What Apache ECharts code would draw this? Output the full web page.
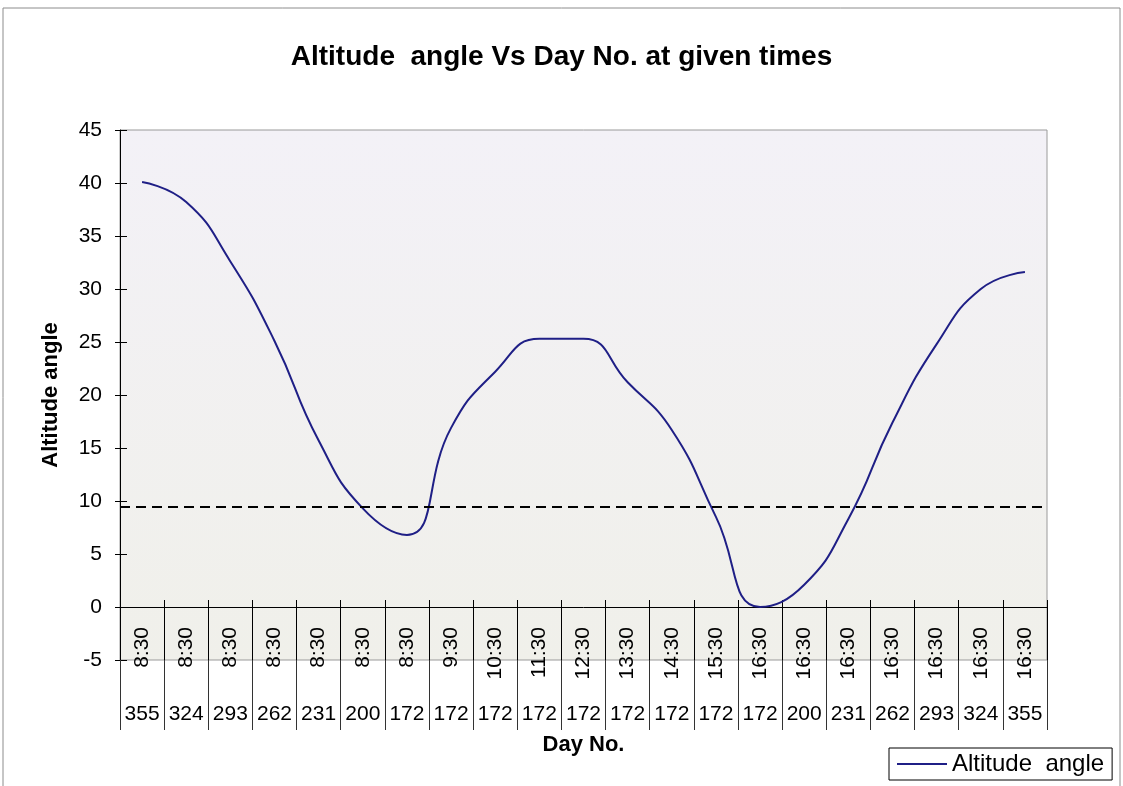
<!DOCTYPE html>
<html>
<head>
    <meta charset="utf-8">
    <title>Altitude angle</title>
    <script src="https://cdn.jsdelivr.net/npm/echarts@6/dist/echarts.min.js"></script>
    <style>
        html, body { margin: 0; padding: 0; background: #fff; }
    </style>
</head>
<body>
    <div id="main" style="width: 1123px;height:786px;"></div>
    <script type="text/javascript">
        // category labels (two levels) and the values
        var times = ['8:30', '8:30', '8:30', '8:30', '8:30', '8:30', '8:30', '9:30', '10:30', '11:30', '12:30',
            '13:30', '14:30', '15:30', '16:30', '16:30', '16:30', '16:30', '16:30', '16:30', '16:30'];
        var days = ['355', '324', '293', '262', '231', '200', '172', '172', '172', '172', '172',
            '172', '172', '172', '172', '200', '231', '262', '293', '324', '355'];
        var altitude = [40.1, 38.2, 32.6, 25.1, 15.7, 9.3, 6.8, 16.9, 22.2, 25.3, 25.3,
            21.2, 16.7, 8.5, 0.0, 2.1, 8.3, 17.4, 24.8, 30.0, 31.6];
        var threshold = 9.5;
        var yTicks = { min: -5, max: 45, interval: 5 };

        var font = '"Liberation Sans", Arial, sans-serif';
        var myChart = echarts.init(document.getElementById('main'));

        var option = {
            backgroundColor: '#fff',
            animation: false,
            textStyle: { fontFamily: font },
            graphic: [{
                type: 'rect',
                shape: { x: 3, y: 8, width: 1117, height: 800 },
                style: { fill: 'none', stroke: '#8c8c8c', lineWidth: 1 },
                silent: true
            }],
            title: {
                text: 'Altitude  angle Vs Day No. at given times',
                left: 'center',
                top: 38,
                textStyle: { fontFamily: font, fontSize: 28, fontWeight: 'bold', color: '#000' }
            },
            legend: {
                data: ['Altitude  angle'],
                left: 889,
                top: 748,
                padding: [4, 8, 4, 8],
                icon: 'rect',
                itemWidth: 50,
                itemHeight: 2,
                itemGap: 4,
                borderColor: '#000',
                borderWidth: 1,
                textStyle: { fontFamily: font, fontSize: 24, color: '#000' }
            },
            grid: {
                left: 120, right: 76, top: 130, bottom: 126,
                show: true,
                borderColor: '#9a9a9a',
                borderWidth: 1,
                backgroundColor: {
                    type: 'linear', x: 0, y: 0, x2: 0, y2: 1,
                    colorStops: [{ offset: 0, color: '#f3f1f7' }, { offset: 1, color: '#f0f0ea' }]
                }
            },
            xAxis: [
                {
                    // time labels, hung from the zero line (5 units above the grid bottom)
                    type: 'category',
                    data: times,
                    position: 'bottom',
                    offset: -53,
                    axisLine: { onZero: false, lineStyle: { color: '#000', width: 1 } },
                    axisTick: { show: true, interval: 0, length: 53, lineStyle: { color: '#000' } },
                    axisLabel: { interval: 0, rotate: 90, margin: 20, fontFamily: font, fontSize: 21, color: '#000' }
                },
                {
                    // day numbers along the bottom
                    type: 'category',
                    data: days,
                    position: 'bottom',
                    name: 'Day No.',
                    nameLocation: 'middle',
                    nameGap: 74,
                    nameTextStyle: { fontFamily: font, fontSize: 22, fontWeight: 'bold', color: '#000' },
                    axisLine: { show: false, onZero: false },
                    axisTick: { show: true, interval: 0, length: 70, lineStyle: { color: '#333' } },
                    axisLabel: { interval: 0, margin: 44, fontFamily: font, fontSize: 21, color: '#000' }
                },
                {
                    // short ticks above the zero line
                    type: 'category',
                    data: times,
                    position: 'bottom',
                    axisLine: { show: false, onZero: true },
                    axisTick: { show: true, interval: 0, inside: true, length: 7, lineStyle: { color: '#000' } },
                    axisLabel: { show: false }
                }
            ],
            yAxis: [
                {
                    type: 'value',
                    min: yTicks.min, max: yTicks.max, interval: yTicks.interval,
                    name: 'Altitude angle',
                    nameLocation: 'middle',
                    nameGap: 58,
                    nameTextStyle: { fontFamily: font, fontSize: 22, fontWeight: 'bold', color: '#000' },
                    axisLine: { show: true, lineStyle: { color: '#000' } },
                    axisTick: { show: true, length: 5, lineStyle: { color: '#000' } },
                    axisLabel: { margin: 18, fontFamily: font, fontSize: 21, color: '#000' },
                    splitLine: { show: false }
                },
                {
                    type: 'value',
                    position: 'left',
                    min: yTicks.min, max: yTicks.max, interval: yTicks.interval,
                    axisLine: { show: false },
                    axisTick: { show: true, inside: true, length: 7, lineStyle: { color: '#000' } },
                    axisLabel: { show: false },
                    splitLine: { show: false }
                }
            ],
            series: [
                {
                    name: 'Altitude  angle',
                    type: 'line',
                    xAxisIndex: 0,
                    yAxisIndex: 0,
                    data: altitude,
                    smooth: 0.5,
                    symbol: 'none',
                    lineStyle: { color: '#1f1f86', width: 2 },
                    itemStyle: { color: '#1f1f86' },
                    markLine: {
                        silent: true,
                        symbol: ['none', 'none'],
                        label: { show: false },
                        lineStyle: { color: '#000', type: [10, 6], width: 2 },
                        data: [{ yAxis: threshold }]
                    }
                }
            ]
        };
        myChart.setOption(option);
    </script>
</body>
</html>
